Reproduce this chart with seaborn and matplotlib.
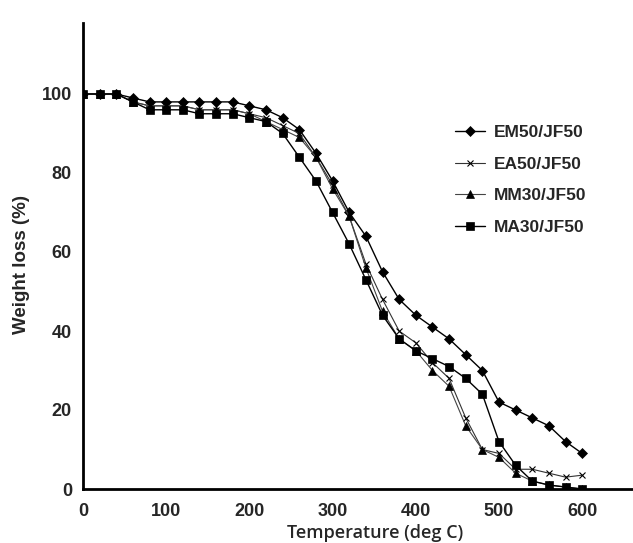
import numpy as np
import pandas as pd
import seaborn as sns
import matplotlib
matplotlib.use("Agg")
import matplotlib.pyplot as plt

# temperatures (deg C), readings every 20 degrees
temperature = list(range(0, 620, 20))

em50_jf50 = [100, 100, 100, 99, 98, 98, 98, 98, 98, 98, 97, 96, 94, 91, 85, 78,
             70, 64, 55, 48, 44, 41, 38, 34, 30, 22, 20, 18, 16, 12, 9]
ea50_jf50 = [100, 100, 100, 98, 97, 97, 97, 96, 96, 96, 95, 94, 92, 90, 84, 77,
             69, 57, 48, 40, 37, 32, 28, 18, 10, 9, 5, 5, 4, 3, 3.5]
mm30_jf50 = [100, 100, 100, 98, 97, 97, 97, 96, 96, 96, 95, 93, 91, 89, 84, 76,
             69, 56, 45, 38, 35, 30, 26, 16, 10, 8, 4, 2, 1, 0.5, 0]
ma30_jf50 = [100, 100, 100, 98, 96, 96, 96, 95, 95, 95, 94, 93, 90, 84, 78, 70,
             62, 53, 44, 38, 35, 33, 31, 28, 24, 12, 6, 2, 1, 0.5, 0]

series_names = ["EM50/JF50", "EA50/JF50", "MM30/JF50", "MA30/JF50"]
series_values = [em50_jf50, ea50_jf50, mm30_jf50, ma30_jf50]

df = pd.concat([
    pd.DataFrame({"temperature": temperature, "weight": vals, "sample": name})
    for name, vals in zip(series_names, series_values)
])

sns.set_style("white")
plt.rcParams["font.family"] = ["Liberation Sans", "DejaVu Sans"]

fig = plt.figure(figsize=(6.33, 5.43), dpi=100)
ax = fig.add_axes([83 / 633, 54 / 543, 1 - 83 / 633, (489 - 23) / 543])

styles = {
    "EM50/JF50": dict(marker="D", markersize=5, color="black", lw=1.0),
    "EA50/JF50": dict(marker="x", markersize=5, color="#333333", lw=0.8, mew=0.8),
    "MM30/JF50": dict(marker="^", markersize=6, color="#444444", lw=0.8),
    "MA30/JF50": dict(marker="s", markersize=5.5, color="black", lw=1.0),
}

for name in series_names:
    st = styles[name]
    sub = df[df["sample"] == name]
    sns.lineplot(data=sub, x="temperature", y="weight", ax=ax, label=name,
                 color=st["color"], lw=st["lw"], marker=st["marker"],
                 markersize=st["markersize"], markerfacecolor="black",
                 markeredgecolor="black", mew=st.get("mew", 0.5))

ax.set_xlim(0, (633 - 83) / 0.832)
ax.set_ylim(0, (489 - 23) / 3.95)
ax.set_xticks([0, 100, 200, 300, 400, 500, 600])
ax.set_yticks([0, 20, 40, 60, 80, 100])

for side in ["top", "right"]:
    ax.spines[side].set_visible(False)
for side in ["left", "bottom"]:
    ax.spines[side].set_color("black")
    ax.spines[side].set_linewidth(2)

ax.tick_params(axis="both", length=2, width=0.6, color="#888888",
               labelsize=13, direction="out")
ax.tick_params(axis="x", pad=8)
ax.tick_params(axis="y", pad=6)
for lbl in ax.get_xticklabels() + ax.get_yticklabels():
    lbl.set_fontweight("bold")

# axis titles placed in figure coordinates
ax.set_xlabel("")
ax.set_ylabel("")
fig.text(22 / 633, (543 - 265) / 543, "Weight loss (%)", fontsize=13.5,
         fontweight="bold", rotation=90, ha="center", va="center")
fig.text(375 / 633, 1 / 543, "Temperature (deg C)",
         family=["Open Sans", "DejaVu Sans"], fontsize=13,
         fontweight="semibold", ha="center", va="bottom")

leg = ax.legend(loc="upper left", bbox_to_anchor=(455 / 633, 1 - 125 / 543),
                bbox_transform=fig.transFigure, frameon=False,
                prop={"weight": "bold", "size": 12.5}, handlelength=1.75,
                handletextpad=0.5, labelspacing=0.95, borderpad=0,
                borderaxespad=0)

fig.savefig("out.png", dpi=100)
